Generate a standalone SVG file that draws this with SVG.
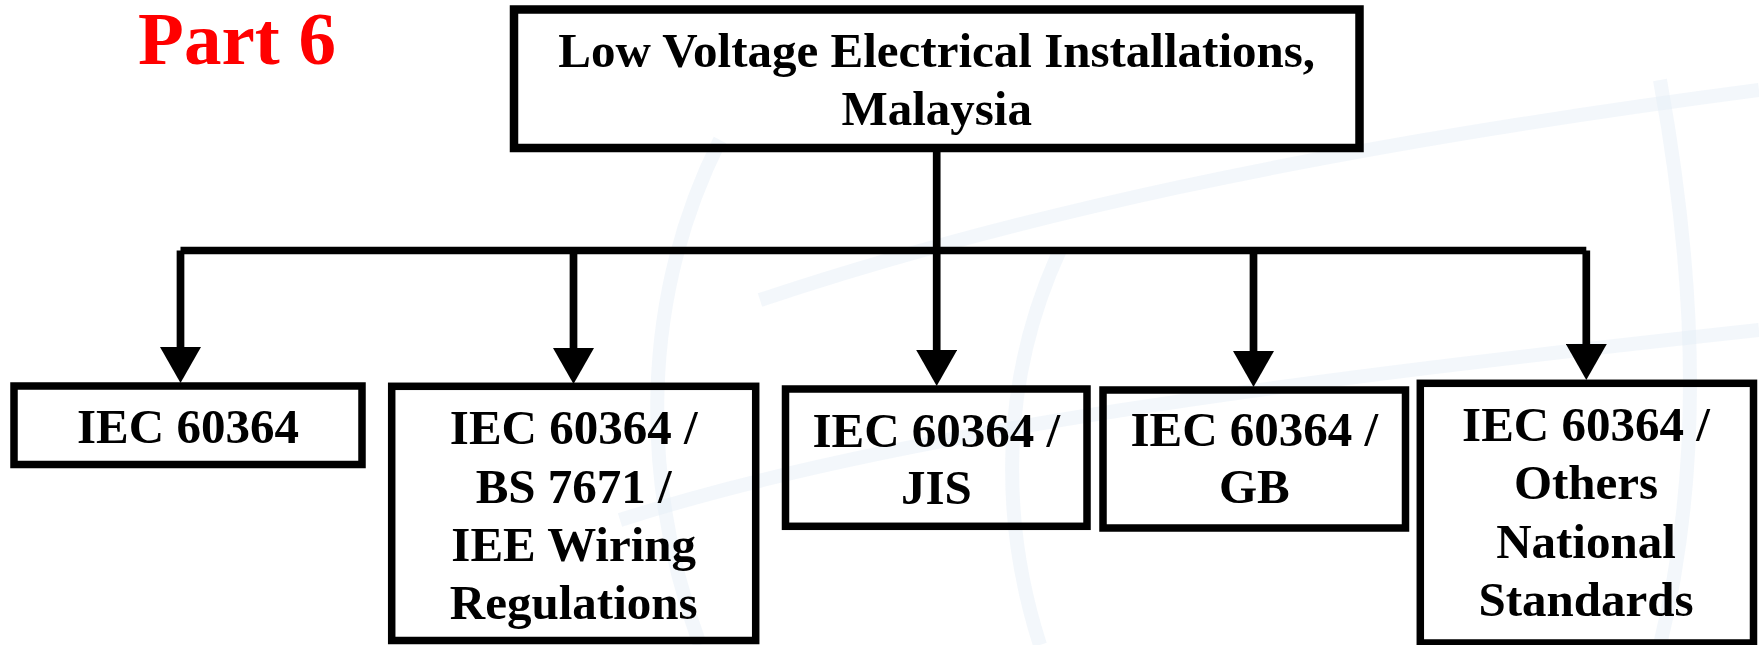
<svg xmlns="http://www.w3.org/2000/svg" width="1759" height="645" viewBox="0 0 1759 645">
<defs>
<style>
.box{fill:none;stroke:#000;stroke-width:7.5}
.top{fill:none;stroke:#000;stroke-width:8.5}
.lbl{font-family:"Liberation Serif","Times New Roman",serif;font-weight:bold;font-size:49px;fill:#000;text-anchor:middle}
.ttl{font-family:"Liberation Serif","Times New Roman",serif;font-weight:bold;font-size:75px;fill:#ff0000;text-anchor:middle}
.con{fill:none;stroke:#000;stroke-width:7.7;stroke-linecap:butt}
.wm{fill:none;stroke:#e4edf6;stroke-width:14;opacity:0.45}
</style>
<marker id="arr" markerUnits="userSpaceOnUse" markerWidth="36" markerHeight="41" viewBox="0 0 36 41" refX="0" refY="20.5" orient="auto">
<path d="M0,0 L36,20.5 L0,41 z" fill="#000"/>
</marker>
</defs>
<rect width="1759" height="645" fill="#fff"/>
<g id="watermark">
<path class="wm" d="M700,645 C640,480 640,300 720,140"/>
<path class="wm" d="M1660,645 C1700,480 1700,300 1660,80"/>
<path class="wm" d="M760,300 C1000,220 1300,150 1759,90"/>
<path class="wm" d="M620,520 C900,430 1300,380 1759,330"/>
<path class="wm" d="M1040,645 C1000,520 1000,380 1060,250"/>
</g>
<g id="title">
<text class="ttl" x="237" y="64">Part 6</text>
</g>
<g id="connectors">
<line class="con" x1="936.7" y1="152" x2="936.7" y2="350" marker-end="url(#arr)"/>
<line class="con" x1="180.5" y1="250.5" x2="1586.3" y2="250.5"/>
<line class="con" x1="180.5" y1="250.5" x2="180.5" y2="347" marker-end="url(#arr)"/>
<line class="con" x1="573.5" y1="250.5" x2="573.5" y2="348" marker-end="url(#arr)"/>
<line class="con" x1="1253.5" y1="250.5" x2="1253.5" y2="351" marker-end="url(#arr)"/>
<line class="con" x1="1586.3" y1="250.5" x2="1586.3" y2="344" marker-end="url(#arr)"/>
</g>
<g id="node-root">
<rect class="top" x="514" y="9.5" width="845.5" height="138.5" fill="#fff"/>
<text class="lbl" x="936.7" y="67">Low Voltage Electrical Installations,</text>
<text class="lbl" x="936.7" y="125">Malaysia</text>
</g>
<g id="node-iec">
<rect class="box" x="14" y="386" width="348" height="78.5"/>
<text class="lbl" x="188" y="443">IEC 60364</text>
</g>
<g id="node-bs">
<rect class="box" x="391.7" y="386.3" width="364" height="254.2"/>
<text class="lbl" x="573.7" y="444">IEC 60364 /</text>
<text class="lbl" x="573.7" y="502.5">BS 7671 /</text>
<text class="lbl" x="573.7" y="561">IEE Wiring</text>
<text class="lbl" x="573.7" y="619">Regulations</text>
</g>
<g id="node-jis">
<rect class="box" x="785.5" y="389" width="301.5" height="137.3"/>
<text class="lbl" x="936.3" y="446.5">IEC 60364 /</text>
<text class="lbl" x="936.3" y="503.5">JIS</text>
</g>
<g id="node-gb">
<rect class="box" x="1103" y="390" width="302.5" height="138"/>
<text class="lbl" x="1254.3" y="446">IEC 60364 /</text>
<text class="lbl" x="1254.3" y="503">GB</text>
</g>
<g id="node-others">
<rect class="box" x="1420.3" y="383.3" width="333.2" height="259.7"/>
<text class="lbl" x="1586" y="441">IEC 60364 /</text>
<text class="lbl" x="1586" y="499">Others</text>
<text class="lbl" x="1586" y="557.5">National</text>
<text class="lbl" x="1586" y="615.5">Standards</text>
</g>
</svg>
